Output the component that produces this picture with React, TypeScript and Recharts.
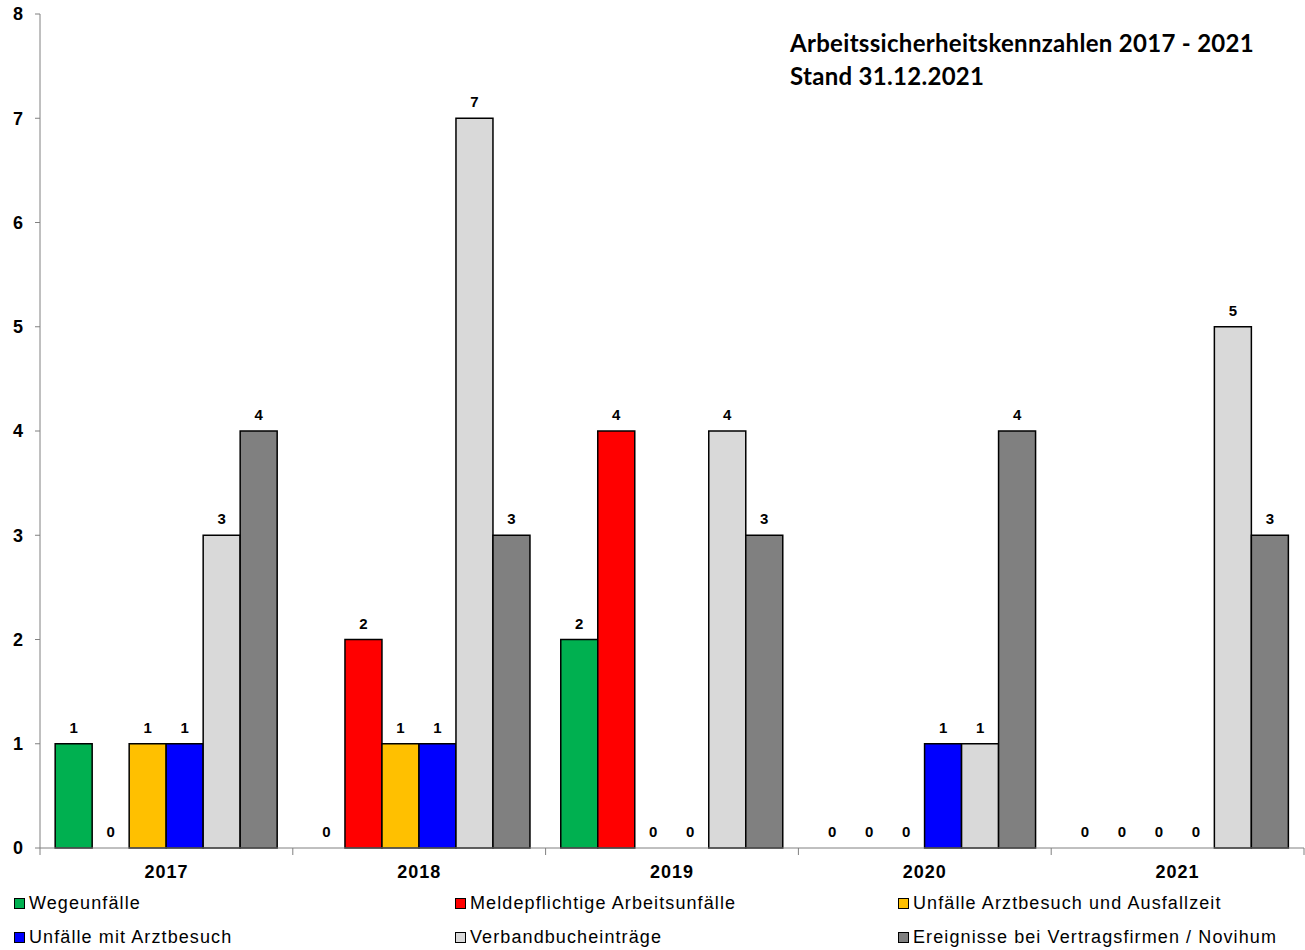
import React from "react";
import { BarChart, Bar, XAxis, YAxis, LabelList, Rectangle } from "recharts";

const YEARS = ["2017", "2018", "2019", "2020", "2021"];
const WEGE = [1, 0, 2, 0, 0];
const MELDE = [0, 2, 4, 0, 0];
const AUSFALL = [1, 1, 0, 0, 0];
const ARZT = [1, 1, 0, 1, 0];
const VERBAND = [3, 7, 4, 1, 5];
const EREIGNIS = [4, 3, 3, 4, 3];
const Y_TICKS = [0, 1, 2, 3, 4, 5, 6, 7, 8];

const SERIES = [
  { key: "wege", name: "Wegeunfälle", color: "#00B050", values: WEGE },
  { key: "melde", name: "Meldepflichtige Arbeitsunfälle", color: "#FF0000", values: MELDE },
  { key: "ausfall", name: "Unfälle Arztbesuch und Ausfallzeit", color: "#FFC000", values: AUSFALL },
  { key: "arzt", name: "Unfälle mit Arztbesuch", color: "#0000FF", values: ARZT },
  { key: "verband", name: "Verbandbucheinträge", color: "#D9D9D9", values: VERBAND },
  { key: "ereignis", name: "Ereignisse bei Vertragsfirmen / Novihum", color: "#808080", values: EREIGNIS },
];

const rows = YEARS.map((year, i) => {
  const row: any = { year };
  SERIES.forEach((s) => (row[s.key] = s.values[i]));
  return row;
});

const FONT = "'Liberation Sans', Arial, sans-serif";

// year label plus the small tick marks at the category borders
const YearTick = (props: any) => {
  const { x, y, payload, index, visibleTicksCount } = props;
  const half = payload.offset || 0;
  const last = index === (visibleTicksCount ?? YEARS.length) - 1;
  return (
    <g>
      <line x1={x - half} x2={x - half} y1={y} y2={y + 7} stroke="#808080" />
      {last && <line x1={x + half} x2={x + half} y1={y} y2={y + 7} stroke="#808080" />}
      <text
        x={x}
        y={y + 30}
        textAnchor="middle"
        fill="#000"
        fontSize={18}
        fontWeight={700}
        letterSpacing={1}
        fontFamily={FONT}
      >
        {payload.value}
      </text>
    </g>
  );
};

const labelText = (cx: number, y: number, v: any) => (
  <text
    x={cx}
    y={y - 11}
    textAnchor="middle"
    fill="#000"
    fontSize={15}
    fontWeight={700}
    fontFamily={FONT}
  >
    {v}
  </text>
);

// draws the bar and its value label, so zero bars still get a "0"
const BarWithLabel = (props: any) => {
  const { x, y, width, height, value } = props;
  const v = Array.isArray(value) ? value[1] - value[0] : value;
  return (
    <g>
      {height > 0 && <Rectangle {...props} />}
      {labelText(x + width / 2, y, v)}
    </g>
  );
};

export default function App() {
  return (
    <div style={{ position: "absolute", left: 0, top: 0, width: 1305, height: 950, background: "#fff", fontFamily: FONT }}>
      <BarChart
        width={1305}
        height={950}
        data={rows}
        margin={{ top: 14, right: 1, left: 0, bottom: 0 }}
        barGap={0}
        barCategoryGap="6%"
      >
        <XAxis
          dataKey="year"
          stroke="#808080"
          tickLine={false}
          tickSize={0}
          tickMargin={0}
          height={102}
          interval={0}
          tick={<YearTick />}
        />
        <YAxis
          width={40}
          domain={[0, 8]}
          ticks={Y_TICKS}
          tickSize={5}
          tickMargin={12}
          stroke="#808080"
          tick={{ fill: "#000", fontSize: 18, fontWeight: 700, fontFamily: FONT }}
        />
        {SERIES.map((s) => (
          <Bar
            key={s.key}
            dataKey={s.key}
            name={s.name}
            fill={s.color}
            stroke="#000"
            strokeWidth={1.5}
            isAnimationActive={false}
            shape={<BarWithLabel />}
          />
        ))}
      </BarChart>

      <div
        style={{
          position: "absolute",
          left: 790,
          top: 26,
          fontFamily: "Lato, 'Open Sans', sans-serif",
          fontWeight: 700,
          fontSize: 24,
          letterSpacing: 0.3,
          lineHeight: "33px",
          color: "#000",
        }}
      >
        <div>Arbeitssicherheitskennzahlen 2017 - 2021</div>
        <div>Stand 31.12.2021</div>
      </div>

      {SERIES.map((s, i) => {
        const col = i % 3;
        const row = Math.floor(i / 3);
        return (
          <div
            key={s.key}
            style={{
              position: "absolute",
              left: [14, 455, 898][col],
              top: row === 0 ? 892 : 926,
              height: 22,
              display: "flex",
              alignItems: "center",
              fontSize: 18,
              letterSpacing: 1.1,
              color: "#000",
              whiteSpace: "nowrap",
            }}
          >
            <span
              style={{
                display: "inline-block",
                width: 9,
                height: 9,
                background: s.color,
                border: "1px solid #000",
                marginRight: 4,
              }}
            />
            {s.name}
          </div>
        );
      })}
    </div>
  );
}
